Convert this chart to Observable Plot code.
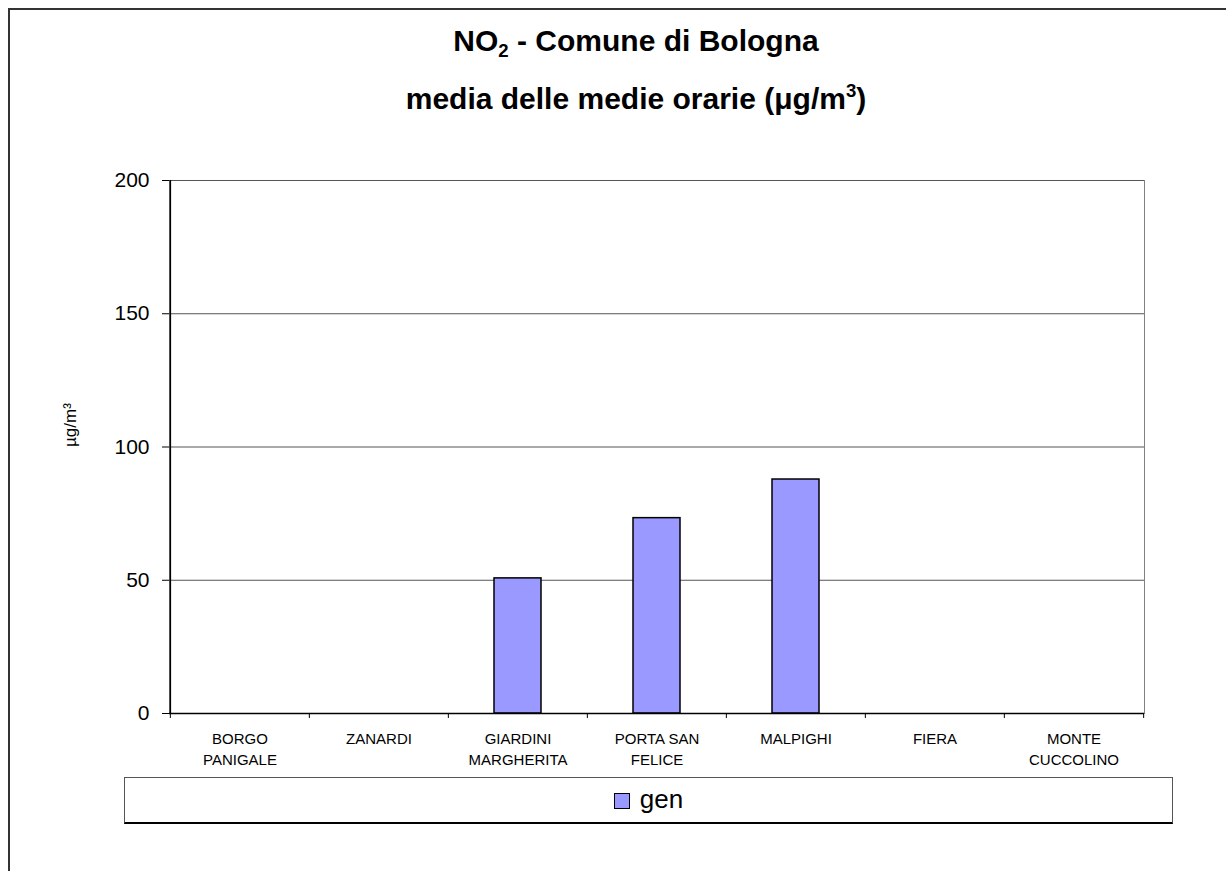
<!DOCTYPE html>
<html>
<head>
<meta charset="utf-8">
<script src="https://cdn.jsdelivr.net/npm/d3@7"></script>
<script src="https://cdn.jsdelivr.net/npm/@observablehq/plot@0.6"></script>
<style>
  html, body { margin: 0; padding: 0; background: #fff; overflow: hidden; }
  #wrap { position: relative; width: 1226px; height: 871px; overflow: hidden; font-family: "Liberation Sans", Arial, sans-serif; }
  #outer { position: absolute; left: 8px; top: 8px; width: 2000px; height: 2000px; border-left: 2px solid #333; border-top: 2px solid #333; }
  #title { position: absolute; left: 0; top: 14px; width: 1272px; text-align: center; font-weight: bold; font-size: 30px; line-height: 54px; color: #000; }
  #chart { position: absolute; left: 0; top: 0; }
  #legend { position: absolute; left: 124px; top: 777px; width: 1047px; height: 44px; border: 1px solid #555; border-bottom: 2px solid #000; display: flex; align-items: center; justify-content: center; gap: 10px; }
  #legend .sw { width: 14px; height: 14px; background: #9999ff; border: 1.5px solid #000; margin-top: 1px; }
  #legend .lab { font-size: 26px; line-height: 26px; margin-top: -2px; }
</style>
</head>
<body>
<div id="wrap">
  <div id="outer"></div>
  <div id="chart"></div>
  <div id="title"></div>
  <div id="legend"></div>
</div>
<script>
// ---- data ----
const categories = ["BORGO PANIGALE", "ZANARDI", "GIARDINI MARGHERITA", "PORTA SAN FELICE", "MALPIGHI", "FIERA", "MONTE CUCCOLINO"];
const tickLabels = ["BORGO\nPANIGALE", "ZANARDI", "GIARDINI\nMARGHERITA", "PORTA SAN\nFELICE", "MALPIGHI", "FIERA", "MONTE\nCUCCOLINO"];
const genValues = [null, null, 50.7, 73.3, 87.8, null, null];
const yTicks = [0, 50, 100, 150, 200];
const seriesName = "gen";
const barColor = "#9999ff";
const yLabel = "µg/m³";

// ---- layout ----
const W = 1226, H = 871;
const mL = 169, mR = 82, mT = 180, mB = 158;
const step = (W - mL - mR) / categories.length;
const plotH = H - mT - mB;
const tickLen = 5 * (yTicks[yTicks.length - 1] - yTicks[0]) / plotH; // 5px in data units

const rows = categories.map((c, i) => ({station: c, value: genValues[i], label: tickLabels[i]}));
const bars = rows.filter(d => d.value != null);

const chart = Plot.plot({
  width: W,
  height: H,
  marginLeft: mL,
  marginRight: mR,
  marginTop: mT,
  marginBottom: mB,
  style: {fontFamily: "'Liberation Sans', Arial, sans-serif", background: "transparent", color: "#000"},
  x: {type: "band", domain: categories, paddingInner: 0.66, paddingOuter: 0.33},
  y: {domain: [0, 200]},
  marks: [
    Plot.frame({stroke: "#808080", strokeWidth: 1}),
    Plot.ruleY(yTicks.filter(v => v > 0), {stroke: "#555", strokeWidth: 1}),
    Plot.barY(bars, {x: "station", y: "value", fill: barColor, stroke: "#000", strokeWidth: 1.5}),
    Plot.ruleY([0], {stroke: "#000", strokeWidth: 1.5}),
    // category boundary ticks
    Plot.ruleX(categories, {x: d => d, dx: -step / 2, y1: 0, y2: -tickLen, stroke: "#000"}),
    Plot.ruleX(categories.slice(-1), {x: d => d, dx: step / 2, y1: 0, y2: -tickLen, stroke: "#000"}),
    // left axis line
    Plot.ruleX(categories.slice(0, 1), {x: d => d, dx: -step / 2, y1: 0, y2: 200, stroke: "#000", strokeWidth: 1.5}),
    Plot.axisY({ticks: yTicks, tickSize: 7, tickPadding: 13, fontSize: 21, label: null, tickFormat: d => String(d)}),
    Plot.axisX({tickSize: 0, tickPadding: 16, fontSize: 15, lineHeight: 1.4, label: null,
      tickFormat: d => rows.find(r => r.station === d).label}),
    Plot.text([yLabel], {frameAnchor: "left", dx: -99, rotate: -90, fontSize: 17, text: d => d})
  ]
});
document.getElementById("chart").appendChild(chart);

document.getElementById("title").innerHTML =
  'NO<span style="font-size:0.62em;position:relative;top:0.3em">2</span> - Comune di Bologna<br>' +
  'media delle medie orarie (μg/m<span style="font-size:0.62em;position:relative;top:-0.65em">3</span>)';

document.getElementById("legend").innerHTML =
  '<div class="sw"></div><div class="lab">' + seriesName + '</div>';
</script>
</body>
</html>
